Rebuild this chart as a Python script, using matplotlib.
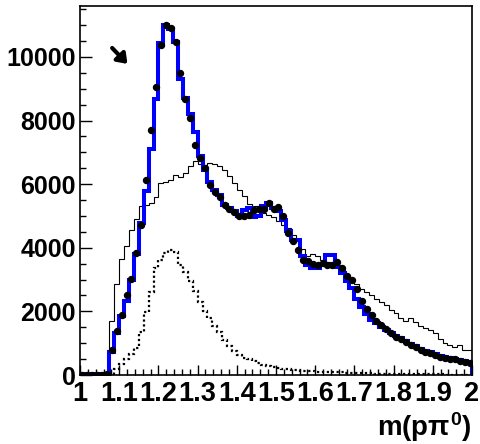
import numpy as np
import matplotlib
matplotlib.use("Agg")
import matplotlib.pyplot as plt

plt.rcParams['font.family'] = ['Liberation Sans', 'DejaVu Sans']
plt.rcParams['font.weight'] = 'bold'
plt.rcParams['mathtext.fontset'] = 'custom'
plt.rcParams['mathtext.rm'] = 'Liberation Sans:bold'
plt.rcParams['mathtext.it'] = 'Liberation Sans:bold'
plt.rcParams['mathtext.bf'] = 'Liberation Sans:bold'

# 80 bins from 1 to 2
edges = np.linspace(1.0, 2.0, 81)
centers = 0.5 * (edges[:-1] + edges[1:])

# data points
data = [0, 0, 0, 0, 0, 20, 800, 1375, 1900, 2510,
        3010, 3850, 4715, 6140, 7695, 9050, 10375, 10990, 10910, 10465,
        9500, 8685, 8085, 7220, 6825, 6510, 5985, 5755, 5600, 5335,
        5230, 5125, 4990, 4990, 5040, 5200, 5220, 5220, 5410, 5220,
        5270, 4990, 4460, 4200, 3915, 3620, 3570, 3500, 3465, 3520,
        3465, 3450, 3540, 3370, 3110, 3000, 2690, 2320, 2090, 1900,
        1690, 1560, 1440, 1320, 1210, 1125, 1050, 945, 870, 790,
        735, 680, 630, 575, 545, 505, 490, 450, 410, 370]

# fit (thick blue)
fit = [20, 20, 20, 20, 20, 20, 725, 1320, 1850, 2330,
       2980, 3790, 4780, 5775, 7090, 8685, 10450, 10990, 10890, 10465,
       9290, 8710, 8190, 7650, 6900, 6460, 6060, 5830, 5670, 5355,
       5250, 5145, 5010, 5200, 5250, 4965, 4990, 5300, 5400, 5250,
       5145, 4880, 4515, 4250, 4250, 3750, 3470, 3370, 3370, 3500,
       3780, 3780, 3400, 3200, 2950, 2720, 2400, 2150, 1930, 1720,
       1620, 1520, 1420, 1330, 1240, 1160, 1080, 990, 900, 830,
       770, 710, 660, 610, 570, 530, 500, 470, 430, 390]

# thin black histogram
mc = [0, 0, 0, 0, 0, 0, 1700, 2875, 3640, 4050,
      4550, 4900, 5300, 5355, 5410, 5600, 6040, 6060, 6140, 6300,
      6225, 6350, 6560, 6740, 6620, 6600, 6680, 6620, 6560, 6430,
      6245, 6040, 5830, 5615, 5385, 5320, 5300, 5090, 5040, 4965,
      4830, 4725, 4620, 4410, 4200, 3950, 3750, 3800, 3750, 3600,
      3550, 3500, 3400, 3300, 3100, 3000, 2850, 2700, 2600, 2520,
      2380, 2310, 2205, 2050, 1950, 1800, 1700, 1790, 1680, 1550,
      1470, 1400, 1310, 1130, 1000, 950, 890, 940, 800, 790]

# dotted histogram
bkg = [0, 0, 0, 0, 0, 0, 40, 200, 355, 510,
       670, 850, 1355, 1985, 2600, 3350, 3600, 3850, 3930, 3880,
       3450, 3250, 2950, 2650, 2300, 2000, 1800, 1550, 1365, 1100,
       900, 740, 620, 530, 490, 440, 370, 320, 270, 240,
       210, 200, 180, 160, 150, 140, 130, 120, 110, 100,
       95, 90, 85, 80, 75, 70, 65, 60, 55, 50,
       45, 42, 40, 37, 35, 32, 30, 28, 26, 24,
       22, 20, 18, 16, 14, 12, 10, 9, 8, 7]

xtick_labels = ['1', '1.1', '1.2', '1.3', '1.4', '1.5', '1.6', '1.7', '1.8', '1.9', '2']

fig = plt.figure(figsize=(4.8, 4.44), dpi=100)
ax = fig.add_axes([0.1667, 0.1554, 0.8166, 0.8311])

ax.stairs(mc, edges, color='black', linewidth=0.8)
ax.stairs(bkg, edges, color='black', linewidth=1.6, linestyle=(0, (1, 1.2)))
ax.stairs(fit, edges, color='#0000ff', linewidth=2.9)
ax.plot(centers, data, 'o', color='black', markersize=4.3, zorder=5)

ax.annotate('', xy=(1.121, 9780), xytext=(1.082, 10280),
            arrowprops=dict(arrowstyle='-|>,head_length=0.55,head_width=0.4',
                            color='black', lw=3, shrinkA=0, shrinkB=0))

ax.set_xlim(1, 2)
ax.set_ylim(0, 11600)
ax.set_xticks(np.arange(1.0, 2.01, 0.1))
ax.set_xticklabels(xtick_labels)
ax.set_xticks(np.arange(1.0, 2.001, 0.02), minor=True)
ax.set_yticks(np.arange(0, 10001, 2000))
ax.set_yticks(np.arange(0, 11600, 500), minor=True)

ax.tick_params(direction='in', which='both', top=False, right=False, width=1.0)
ax.tick_params(axis='x', which='major', length=7.5, pad=4, labelsize=19.5)
ax.tick_params(axis='x', which='minor', length=4)
ax.tick_params(axis='y', which='major', length=8.5, pad=3, labelsize=18)
ax.tick_params(axis='y', which='minor', length=4.5)
for lab in ax.get_xticklabels() + ax.get_yticklabels():
    lab.set_fontweight('bold')
for s in ax.spines.values():
    s.set_linewidth(1.2)

fig.text(0.983, 0.018, r'm(p$\pi^{0}$)', fontsize=20, fontweight='bold',
         ha='right', va='baseline')

fig.savefig('out.png', dpi=100)
